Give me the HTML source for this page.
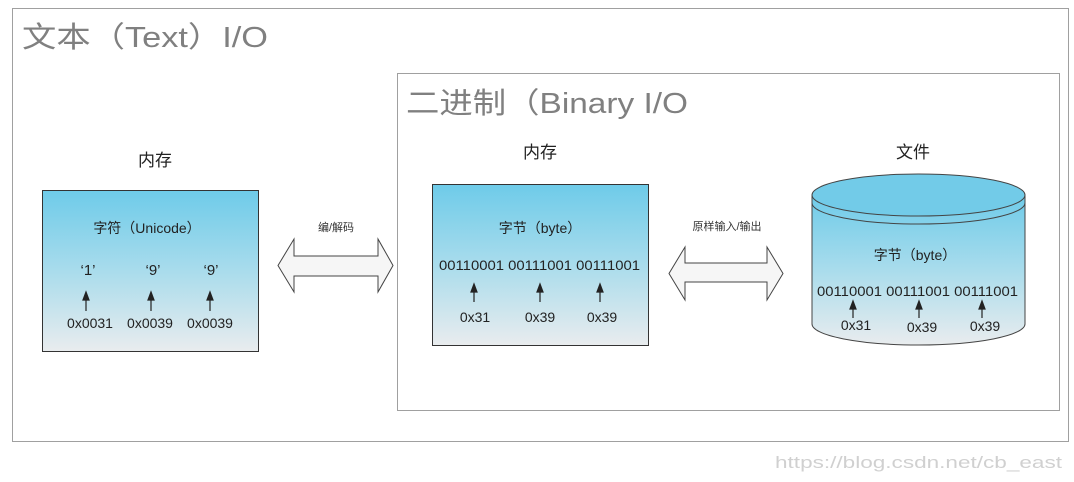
<!DOCTYPE html>
<html><head><meta charset="utf-8"><style>
html,body{margin:0;padding:0;background:#fff;}
svg{display:block;}
text{font-family:"Liberation Sans","Noto Sans CJK SC",sans-serif;}
</style></head><body>
<svg width="1074" height="482" viewBox="0 0 1074 482" xmlns="http://www.w3.org/2000/svg">
<defs>
<linearGradient id="g" x1="0" y1="0" x2="0" y2="1">
<stop offset="0" stop-color="#6ecbe9"/>
<stop offset="0.5" stop-color="#a9dcec"/>
<stop offset="1" stop-color="#e9ecee"/>
</linearGradient>
</defs>
<rect x="12.5" y="8.5" width="1056" height="433" fill="#fff" stroke="#a0a0a0"/>
<text x="22" y="47" font-size="29" fill="#808080" textLength="246" lengthAdjust="spacingAndGlyphs">文本（Text）I/O</text>
<rect x="397.5" y="73.5" width="662" height="337" fill="#fff" stroke="#a0a0a0"/>
<text x="406" y="113" font-size="29" fill="#808080" textLength="282" lengthAdjust="spacingAndGlyphs">二进制（Binary I/O</text>

<text x="155" y="166" font-size="17" text-anchor="middle" fill="#222">内存</text>
<text x="540" y="158" font-size="17" text-anchor="middle" fill="#222">内存</text>
<text x="913" y="158" font-size="17" text-anchor="middle" fill="#222">文件</text>

<rect x="42.5" y="190.5" width="216" height="161" fill="url(#g)" stroke="#333"/>
<text x="147" y="233" font-size="14" text-anchor="middle" fill="#222">字符（Unicode）</text>
<g font-size="15" fill="#222" text-anchor="middle">
<text x="88" y="275">‘1’</text><text x="153" y="275">‘9’</text><text x="211" y="275">‘9’</text>
</g>
<g font-size="14" fill="#222" text-anchor="middle">
<text x="90" y="328">0x0031</text><text x="150" y="328">0x0039</text><text x="210" y="328">0x0039</text>
</g>

<rect x="432.5" y="184.5" width="216" height="161" fill="url(#g)" stroke="#333"/>
<text x="540" y="233" font-size="14" text-anchor="middle" fill="#222">字节（byte）</text>
<text x="439" y="270" font-size="14" fill="#222" textLength="201" lengthAdjust="spacingAndGlyphs">00110001 00111001 00111001</text>
<g font-size="14" fill="#222" text-anchor="middle">
<text x="475" y="322">0x31</text><text x="540" y="322">0x39</text><text x="602" y="322">0x39</text>
</g>

<path d="M812,195 L812,324 A106.5,21 0 0 0 1025,324 L1025,195 Z" fill="url(#g)" stroke="#444"/>
<ellipse cx="918.5" cy="195" rx="106.5" ry="21" fill="#72cbe8" stroke="#444"/>
<path d="M812,203 A106.5,21 0 0 0 1025,203" fill="none" stroke="#444"/>
<text x="915" y="260" font-size="14" text-anchor="middle" fill="#222">字节（byte）</text>
<text x="817" y="296" font-size="14" fill="#222" textLength="201" lengthAdjust="spacingAndGlyphs">00110001 00111001 00111001</text>
<g font-size="14" fill="#222" text-anchor="middle">
<text x="856" y="330">0x31</text><text x="922" y="332">0x39</text><text x="985" y="331">0x39</text>
</g>

<g stroke="#222" stroke-width="1.2" fill="#222">
<line x1="86" y1="298" x2="86" y2="311"/><path d="M83,300 L86,292 L89,300 Z"/>
<line x1="151" y1="298" x2="151" y2="311"/><path d="M148,300 L151,292 L154,300 Z"/>
<line x1="210" y1="298" x2="210" y2="311"/><path d="M207,300 L210,292 L213,300 Z"/>
<line x1="474" y1="290" x2="474" y2="302"/><path d="M471,292 L474,284 L477,292 Z"/>
<line x1="540" y1="290" x2="540" y2="302"/><path d="M537,292 L540,284 L543,292 Z"/>
<line x1="600" y1="290" x2="600" y2="302"/><path d="M597,292 L600,284 L603,292 Z"/>
<line x1="853" y1="307" x2="853" y2="318"/><path d="M850,309 L853,301 L856,309 Z"/>
<line x1="919" y1="307" x2="919" y2="318"/><path d="M916,309 L919,301 L922,309 Z"/>
<line x1="982" y1="307" x2="982" y2="318"/><path d="M979,309 L982,301 L985,309 Z"/>
</g>

<text x="336" y="231" font-size="11" text-anchor="middle" fill="#333">编/解码</text>
<path d="M278,265.5 L294,239 L294,256 L378,256 L378,239 L393,265.5 L378,292 L378,276 L294,276 L294,292 Z" fill="#f6f6f6" stroke="#444"/>
<text x="727" y="230" font-size="11" text-anchor="middle" fill="#333">原样输入/输出</text>
<path d="M669,273.5 L685,247 L685,263 L767,263 L767,247 L783,273.5 L767,300 L767,282 L685,282 L685,300 Z" fill="#f6f6f6" stroke="#444"/>

<text x="775" y="468" font-size="17" fill="#d0d0d0" font-family="Liberation Mono,monospace" textLength="287" lengthAdjust="spacingAndGlyphs">https://blog.csdn.net/cb_east</text>
</svg>
</body></html>
